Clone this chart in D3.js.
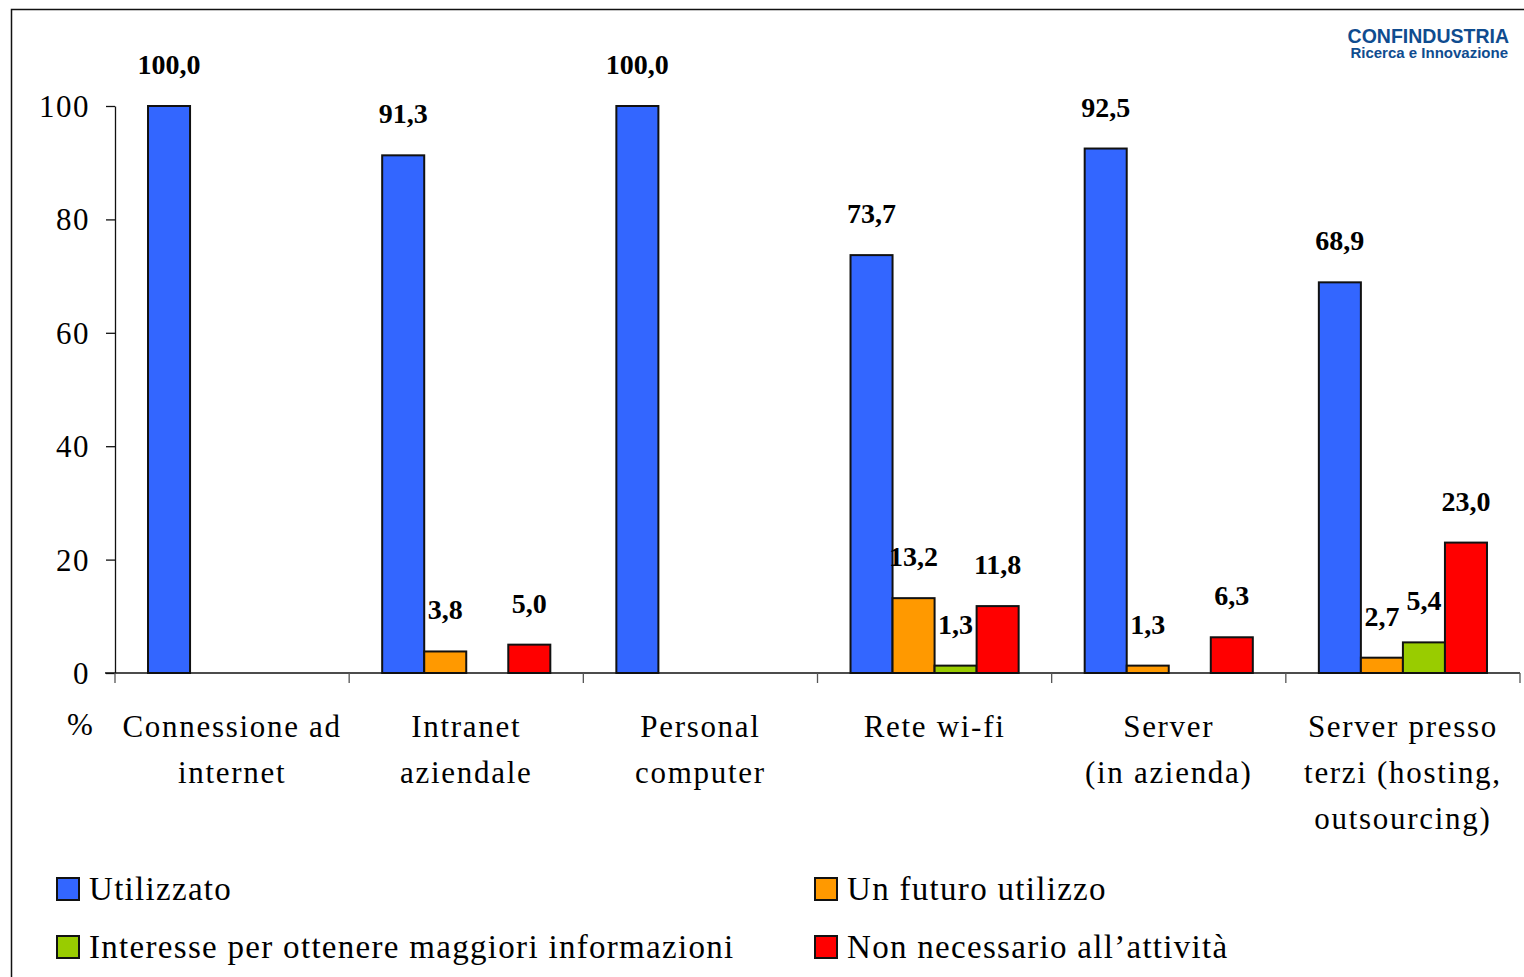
<!DOCTYPE html>
<html>
<head>
<meta charset="utf-8">
<script src="https://cdn.jsdelivr.net/npm/d3@7"></script>
<style>
  body { margin: 0; background: #fff; }
  svg text { font-family: "Liberation Serif", "Times New Roman", serif; fill: #000; }
</style>
</head>
<body>
<div id="chart"></div>
<script>
// categories (one entry per label line)
var categories = [
    ["Connessione ad", "internet"],
    ["Intranet", "aziendale"],
    ["Personal", "computer"],
    ["Rete wi-fi"],
    ["Server", "(in azienda)"],
    ["Server presso", "terzi (hosting,", "outsourcing)"]
];

var seriesNames = ["Utilizzato", "Un futuro utilizzo", "Interesse per ottenere maggiori informazioni", "Non necessario all\u2019attivit\u00e0"];
var seriesColors = ["#3366FF", "#FF9900", "#99CC00", "#FF0000"];

var utilizzato   = [100.0, 91.3, 100.0, 73.7, 92.5, 68.9];
var futuro       = [null, 3.8, null, 13.2, 1.3, 2.7];
var interesse    = [null, null, null, 1.3, null, 5.4];
var nonNecessario = [null, 5.0, null, 11.8, 6.3, 23.0];

var yTicks = [0, 20, 40, 60, 80, 100];

var width = 1524, height = 977;

var svg = d3.select("#chart").append("svg")
    .attr("width", width)
    .attr("height", height);

// frame
svg.append("path")
    .attr("d", "M11.5," + (height + 10) + "V9.5H" + (width + 10))
    .attr("fill", "none")
    .attr("stroke", "#111")
    .attr("stroke-width", 1.5);

var allSeries = [utilizzato, futuro, interesse, nonNecessario];
var catIdx = d3.range(categories.length);

var x = d3.scaleBand().domain(catIdx).range([115, 1520]).padding(0);
var bw = x.bandwidth();
var xs = d3.scaleBand().domain(d3.range(allSeries.length)).range([bw * 0.141, bw * 0.859]).padding(0);

var y = d3.scaleLinear().domain([0, 100]).range([673, 106]);

var fmt = function (v) { return d3.format(".1f")(v).replace(".", ","); };

// y axis
var yAxis = svg.append("g")
    .attr("transform", "translate(115,0)")
    .call(d3.axisLeft(y).tickValues(yTicks).tickSize(9).tickSizeOuter(0).tickPadding(16));
yAxis.select(".domain").attr("stroke", "#111").attr("stroke-width", 1.3);
yAxis.selectAll(".tick line").attr("stroke", "#111").attr("stroke-width", 1.3);
yAxis.selectAll(".tick text")
    .style("font-family", "Liberation Serif")
    .style("font-size", "31px")
    .attr("dy", "0.34em")
    .attr("letter-spacing", 1.5);

// bars
var groups = svg.selectAll("g.cat")
    .data(catIdx)
    .enter().append("g")
    .attr("class", "cat")
    .attr("transform", function (i) { return "translate(" + x(i) + ",0)"; });

var barData = function (i) {
    return allSeries.map(function (s, k) { return {k: k, v: s[i]}; })
        .filter(function (d) { return d.v != null; });
};

groups.selectAll("rect")
    .data(barData)
    .enter().append("rect")
    .attr("x", function (d) { return xs(d.k); })
    .attr("y", function (d) { return y(d.v); })
    .attr("width", xs.bandwidth())
    .attr("height", function (d) { return y(0) - y(d.v); })
    .attr("fill", function (d) { return seriesColors[d.k]; })
    .attr("stroke", "#111")
    .attr("stroke-width", 2);

groups.selectAll("text.val")
    .data(barData)
    .enter().append("text")
    .attr("class", "val")
    .attr("x", function (d) { return xs(d.k) + xs.bandwidth() / 2; })
    .attr("y", function (d) { return y(d.v) - 32; })
    .attr("text-anchor", "middle")
    .style("font-size", "28px")
    .style("font-weight", "bold")
    .text(function (d) { return fmt(d.v); });

// x axis
var xAxis = svg.append("g");
xAxis.append("line")
    .attr("x1", 105).attr("x2", 1520)
    .attr("y1", y(0)).attr("y2", y(0))
    .attr("stroke", "#111").attr("stroke-width", 1.3);
xAxis.selectAll("line.tick")
    .data(d3.range(categories.length + 1))
    .enter().append("line")
    .attr("class", "tick")
    .attr("x1", function (i) { return 115 + i * bw; })
    .attr("x2", function (i) { return 115 + i * bw; })
    .attr("y1", y(0)).attr("y2", y(0) + 10)
    .attr("stroke", "#555").attr("stroke-width", 1.3);

xAxis.selectAll("text.cat")
    .data(catIdx)
    .enter().append("text")
    .attr("class", "cat")
    .attr("text-anchor", "middle")
    .attr("x", function (i) { return x(i) + bw / 2; })
    .attr("y", 737)
    .style("font-size", "31px")
    .attr("letter-spacing", 1.7)
    .each(function (i) {
        var t = d3.select(this);
        categories[i].forEach(function (line, j) {
            t.append("tspan")
                .attr("x", x(i) + bw / 2)
                .attr("dy", j === 0 ? 0 : 46)
                .text(line);
        });
    });

svg.append("text")
    .attr("x", 80).attr("y", 735)
    .attr("text-anchor", "middle")
    .style("font-size", "31px")
    .text("%");

// legend
var legendPos = [[57, 889], [815, 889], [57, 947], [815, 947]];
var legend = svg.selectAll("g.legend")
    .data(seriesNames)
    .enter().append("g")
    .attr("class", "legend")
    .attr("transform", function (d, i) { return "translate(" + legendPos[i][0] + "," + legendPos[i][1] + ")"; });

legend.append("rect")
    .attr("x", 0).attr("y", -11)
    .attr("width", 22).attr("height", 22)
    .attr("fill", function (d, i) { return seriesColors[i]; })
    .attr("stroke", "#111").attr("stroke-width", 2);

legend.append("text")
    .attr("x", 32).attr("y", 11)
    .style("font-size", "33px")
    .attr("letter-spacing", 1.3)
    .text(function (d) { return d; });

// logo
var logo = svg.append("g").attr("transform", "translate(1509,0)");
logo.append("text")
    .attr("y", 43).attr("text-anchor", "end")
    .style("font-family", "Liberation Sans, Arial, sans-serif")
    .style("font-weight", "bold")
    .style("font-size", "19.5px")
    .style("fill", "#0f4c8f")
    .text("CONFINDUSTRIA");
logo.append("text")
    .attr("x", -1).attr("y", 58).attr("text-anchor", "end")
    .style("font-family", "Liberation Sans, Arial, sans-serif")
    .style("font-weight", "bold")
    .style("font-size", "15px")
    .style("fill", "#0f4c8f")
    .text("Ricerca e Innovazione");
</script>
</body>
</html>
